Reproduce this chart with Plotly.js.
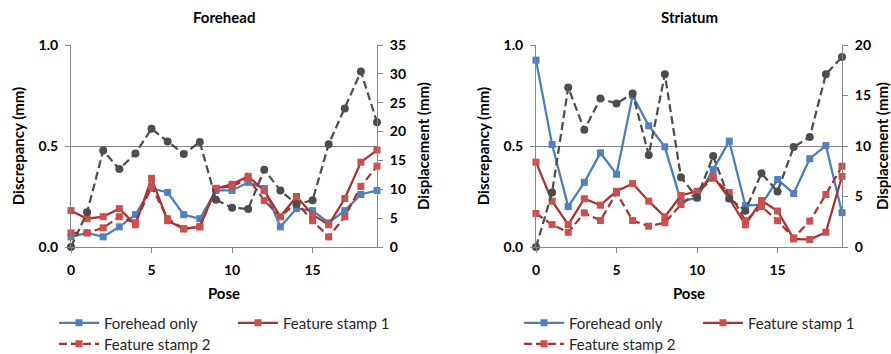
<!DOCTYPE html>
<html>
<head>
<meta charset="utf-8">
<script src="https://cdn.plot.ly/plotly-3.0.1.min.js"></script>
<style>html,body{margin:0;padding:0;background:#fff;}#chart{width:891px;height:354px;}</style>
</head>
<body>
<div id="chart"></div>
<script>
// ---- data ----
const poses = [0,1,2,3,4,5,6,7,8,9,10,11,12,13,14,15,16,17,18,19];
const xTickVals = [0,5,10,15];
const seriesNames = ["Forehead only","Feature stamp 1","Feature stamp 2","Displacement"];
const panelTitles = ["Forehead","Striatum"];

// Forehead panel
const fhForeheadOnly = [0.05,0.07,0.05,0.10,0.16,0.29,0.27,0.16,0.14,0.28,0.28,0.32,0.29,0.10,0.19,0.18,0.12,0.18,0.26,0.28];
const fhStamp1       = [0.18,0.14,0.15,0.19,0.11,0.34,0.13,0.09,0.10,0.29,0.31,0.35,0.28,0.15,0.25,0.16,0.11,0.24,0.42,0.48];
const fhStamp2       = [0.07,0.07,0.095,0.15,0.12,0.30,0.14,0.09,0.10,0.29,0.30,0.34,0.23,0.15,0.22,0.13,0.05,0.15,0.30,0.40];
const fhDisplacement = [0.0,6.0,16.7,13.5,16.2,20.5,18.3,16.1,18.2,8.2,6.8,6.6,13.4,9.8,7.4,8.1,17.8,24.0,30.4,21.6];

// Striatum panel
const stForeheadOnly = [0.925,0.507,0.20,0.32,0.466,0.36,0.75,0.60,0.496,0.227,0.243,0.384,0.524,0.205,0.21,0.334,0.265,0.437,0.502,0.17];
const stStamp1       = [0.42,0.227,0.111,0.239,0.207,0.276,0.314,0.227,0.15,0.255,0.276,0.35,0.24,0.11,0.23,0.178,0.04,0.037,0.073,0.35];
const stStamp2       = [0.166,0.111,0.073,0.169,0.131,0.268,0.131,0.103,0.12,0.21,0.27,0.34,0.27,0.13,0.20,0.13,0.045,0.128,0.26,0.40];
const stDisplacement = [0.0,5.4,15.8,11.6,14.7,14.2,15.2,9.1,17.1,6.9,4.9,9.0,4.8,3.6,7.3,5.5,9.9,10.9,17.1,18.8];

// ---- styling ----
const W = 891, H = 354;
const M = {l:71, r:49, t:45, b:106.5};
const PW = W - M.l - M.r, PH = H - M.t - M.b;
const px2x = p => (p - M.l) / PW;
const px2y = p => (H - M.b - p) / PH;
const px2cy = p => (H - p) / H;

const FONT = "Lato, 'Open Sans', sans-serif";
const AX = '#868686';
const BLUE_L = '#4A7EBB', BLUE_M = '#4F81BD';
const RED_L = '#A8322F', RED_M = '#C8504D';
const GRAY = '#4D4D4D';

function mk(y, name, xa, ya, lineColor, markColor, dash, symbol, legendId, showLegend) {
  return {
    type: 'scatter', mode: 'lines+markers', x: poses, y: y, name: name,
    xaxis: xa, yaxis: ya, cliponaxis: false,
    line: {color: lineColor, width: 2.25, dash: dash},
    marker: {color: markColor, size: symbol === 'circle' ? 8 : 7, symbol: symbol},
    showlegend: showLegend, legend: legendId, hoverinfo: 'skip'
  };
}

const traces = [
  mk(fhForeheadOnly, seriesNames[0], 'x', 'y', BLUE_L, BLUE_M, 'solid', 'square', 'legend', true),
  mk(fhStamp1, seriesNames[1], 'x', 'y', RED_L, RED_M, 'solid', 'square', 'legend2', true),
  mk(fhStamp2, seriesNames[2], 'x', 'y', RED_L, RED_M, '8px,4px', 'square', 'legend3', true),
  mk(fhDisplacement, seriesNames[3], 'x', 'y2', GRAY, GRAY, '8px,4px', 'circle', 'legend', false),
  mk(stForeheadOnly, seriesNames[0], 'x2', 'y3', BLUE_L, BLUE_M, 'solid', 'square', 'legend4', true),
  mk(stStamp1, seriesNames[1], 'x2', 'y3', RED_L, RED_M, 'solid', 'square', 'legend5', true),
  mk(stStamp2, seriesNames[2], 'x2', 'y3', RED_L, RED_M, '8px,4px', 'square', 'legend6', true),
  mk(stDisplacement, seriesNames[3], 'x2', 'y4', GRAY, GRAY, '8px,4px', 'circle', 'legend', false)
];

const tickFont = {family: FONT, size: 14, color: '#000', weight: 'bold'};
const titleFont = {family: FONT, size: 15, color: '#000', weight: 'bold'};

function xAx(domain, anchor) {
  return {domain: domain, anchor: anchor, range: [0,19], tickvals: xTickVals,
    ticks: 'outside', ticklen: 5, tickcolor: AX, showline: true, linecolor: AX, linewidth: 1,
    showgrid: false, zeroline: false, tickfont: tickFont, ticklabelstandoff: 5,
    title: {text: 'Pose', font: titleFont, standoff: 11}, fixedrange: true};
}
function yLeft(anchor) {
  return {domain: [0,1], anchor: anchor, range: [0,1], tickvals: [0,0.5,1], tickformat: '.1f',
    ticks: 'outside', ticklen: 5, tickcolor: AX, showline: true, linecolor: AX, linewidth: 1,
    showgrid: true, gridcolor: AX, gridwidth: 1, zeroline: false, tickfont: tickFont, ticklabelstandoff: 4,
    title: {text: 'Discrepancy (mm)', font: titleFont, standoff: 10}, fixedrange: true};
}
function yRight(overlay, anchor, maxv) {
  return {overlaying: overlay, side: 'right', anchor: anchor, range: [0,maxv], dtick: 5,
    ticks: 'outside', ticklen: 5, tickcolor: AX, showline: true, linecolor: AX, linewidth: 1,
    showgrid: false, zeroline: false, tickfont: tickFont, ticklabelstandoff: 4,
    title: {text: 'Displacement (mm)', font: titleFont, standoff: 13}, fixedrange: true};
}

const legFont = {family: FONT, size: 15, color: '#262626'};
function leg(pxX, pxY) {
  return {x: px2x(pxX), y: px2cy(pxY), xref: 'paper', yref: 'container',
    xanchor: 'left', yanchor: 'middle', orientation: 'h',
    bgcolor: 'rgba(0,0,0,0)', borderwidth: 0, font: legFont, itemwidth: 40,
    itemclick: false, itemdoubleclick: false};
}

const xdomL = [0, px2x(377)], xdomR = [px2x(536), 1];

const layout = {
  width: W, height: H, margin: M, paper_bgcolor: '#fff', plot_bgcolor: 'rgba(0,0,0,0)',
  font: {family: FONT},
  xaxis: xAx(xdomL, 'y'),
  yaxis: yLeft('x'),
  yaxis2: yRight('y', 'x', 35),
  xaxis2: xAx(xdomR, 'y3'),
  yaxis3: yLeft('x2'),
  yaxis4: yRight('y3', 'x2', 20),
  legend: leg(54, 323), legend2: leg(233, 323), legend3: leg(54, 344),
  legend4: leg(519, 323), legend5: leg(698, 323), legend6: leg(519, 344),
  annotations: [
    {text: panelTitles[0], x: (xdomL[0]+xdomL[1])/2, y: px2y(17), xref: 'paper', yref: 'paper',
     showarrow: false, xanchor: 'center', yanchor: 'middle', font: titleFont},
    {text: panelTitles[1], x: (xdomR[0]+xdomR[1])/2, y: px2y(17), xref: 'paper', yref: 'paper',
     showarrow: false, xanchor: 'center', yanchor: 'middle', font: titleFont}
  ],
  showlegend: true
};

Plotly.newPlot('chart', traces, layout, {displayModeBar: false, staticPlot: true});
</script>
</body>
</html>
